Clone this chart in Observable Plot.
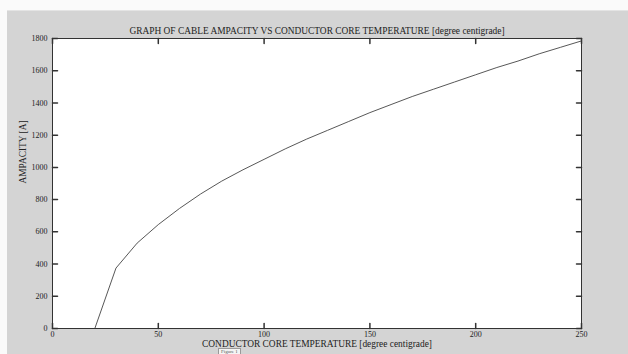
<!DOCTYPE html>
<html>
<head>
<meta charset="utf-8">
<script src="https://cdn.jsdelivr.net/npm/d3@7"></script>
<script src="https://cdn.jsdelivr.net/npm/@observablehq/plot@0.6"></script>
<style>
  html, body { margin: 0; padding: 0; }
  body { width: 628px; height: 354px; background: #d4d4d4; position: relative; overflow: hidden; }
  #topbar { position: absolute; left: 0; top: 0; width: 628px; height: 10px; background: #fafafa; border-bottom: 1px solid #e4e4e4; }
  #leftbar { position: absolute; left: 0; top: 0; width: 7px; height: 354px; background: #fafafa; }
  #chart { position: absolute; left: 0; top: 0; }
  #tip { position: absolute; left: 218px; top: 348px; font: 5px "Liberation Serif", serif; color: #555;
         background: #f4f4f4; border: 1px solid #999; padding: 0 2px; line-height: 6px; }
</style>
</head>
<body>
<div id="topbar"></div>
<div id="leftbar"></div>
<div id="chart"></div>
<div id="tip">Figure 1</div>
<script>
// Conductor core temperature (°C) and the matching cable ampacity (A)
const temperature = [20, 30, 40, 50, 60, 70, 80, 90, 100, 110, 120, 130, 140, 150, 160, 170, 180, 190, 200, 210, 220, 230, 240, 250];
const ampacity    = [0, 375, 530, 645, 745, 835, 915, 985, 1050, 1115, 1175, 1230, 1285, 1340, 1390, 1440, 1485, 1530, 1575, 1620, 1660, 1705, 1745, 1785];

const xTicks = [0, 50, 100, 150, 200, 250];
const yTicks = [0, 200, 400, 600, 800, 1000, 1200, 1400, 1600, 1800];

const titleText = "GRAPH OF CABLE AMPACITY VS CONDUCTOR CORE TEMPERATURE [degree centigrade]";
const xLabel = "CONDUCTOR CORE TEMPERATURE [degree centigrade]";
const yLabel = "AMPACITY [A]";

const curve = temperature.map((t, i) => ({t, a: ampacity[i]}));

// Short straight tick drawn from the anchor point along the vector direction
const tickShape = {draw(context, l) { context.moveTo(0, 0); context.lineTo(0, -l); }};
const ink = "#333";
const font = "Liberation Serif, Times New Roman, serif";
const plain = d => String(d);

const chart = Plot.plot({
  width: 628,
  height: 354,
  marginLeft: 52,
  marginRight: 47,
  marginTop: 38,
  marginBottom: 26,
  style: {background: "transparent", fontFamily: font, fontSize: "8px", color: "#222"},
  x: {domain: [0, 250]},
  y: {domain: [0, 1800]},
  marks: [
    Plot.frame({fill: "white", stroke: "none"}),
    Plot.line(curve, {x: "t", y: "a", stroke: "#444", strokeWidth: 0.9}),
    Plot.frame({stroke: ink, strokeWidth: 1}),
    // inward ticks on all four sides
    Plot.vector(xTicks, {x: d => d, frameAnchor: "bottom", length: 5, rotate: 0, anchor: "start", shape: tickShape, stroke: ink}),
    Plot.vector(xTicks, {x: d => d, frameAnchor: "top", length: 5, rotate: 180, anchor: "start", shape: tickShape, stroke: ink}),
    Plot.vector(yTicks, {y: d => d, frameAnchor: "left", length: 5, rotate: 90, anchor: "start", shape: tickShape, stroke: ink}),
    Plot.vector(yTicks, {y: d => d, frameAnchor: "right", length: 5, rotate: -90, anchor: "start", shape: tickShape, stroke: ink}),
    Plot.axisX(xTicks, {anchor: "bottom", tickSize: 0, tickPadding: 3, label: null, fontSize: 8, tickFormat: plain}),
    Plot.axisY(yTicks, {anchor: "left", tickSize: 0, tickPadding: 5, label: null, fontSize: 8, tickFormat: plain}),
    Plot.text([titleText], {frameAnchor: "top", dy: -11, fontSize: 9.4, fill: "#222"}),
    Plot.text([xLabel], {frameAnchor: "bottom", dy: 18.5, fontSize: 9.4, fill: "#222"}),
    Plot.text([yLabel], {frameAnchor: "left", dx: -30, rotate: -90, fontSize: 9.4, fill: "#222"})
  ]
});

document.getElementById("chart").append(chart);
</script>
</body>
</html>
